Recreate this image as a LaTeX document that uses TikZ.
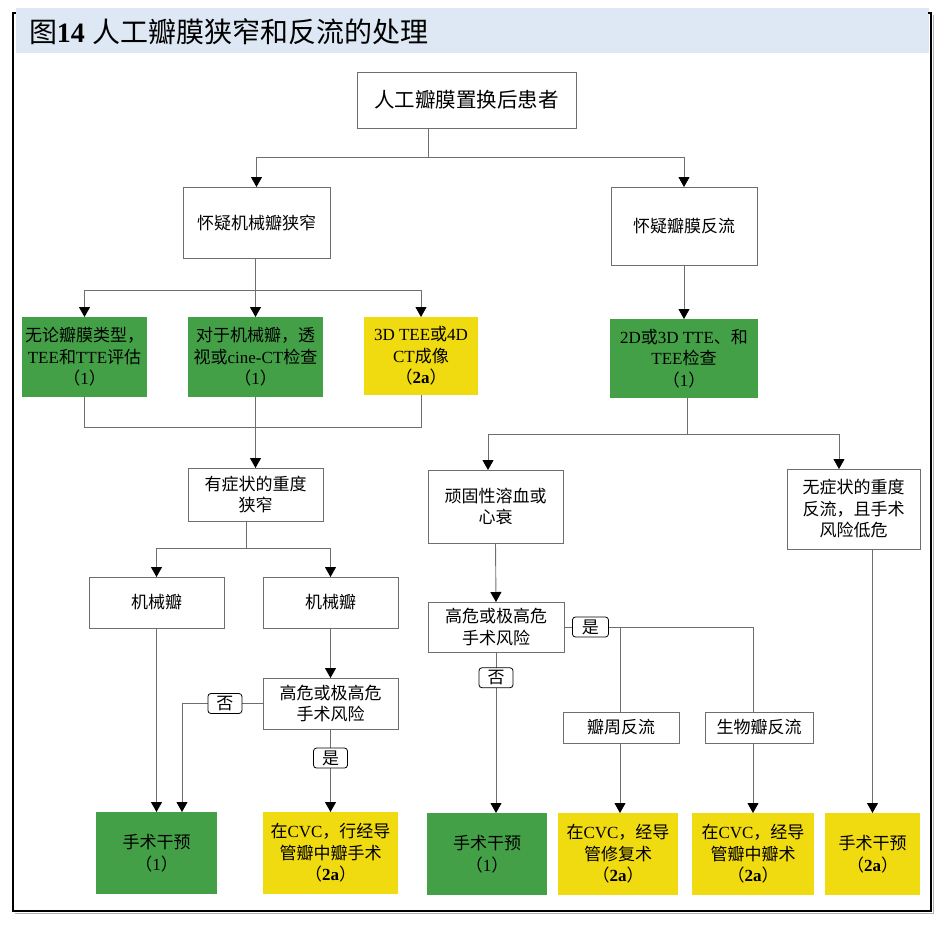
\documentclass[tikz,border=0pt]{standalone}
\usepackage{fontspec}
\setmainfont{Liberation Serif}
\newfontfamily\cjk{Noto Sans CJK SC}
\usetikzlibrary{arrows.meta,calc}
\definecolor{gboxc}{HTML}{43A047}
\definecolor{yboxc}{HTML}{F0DA10}
\definecolor{bandc}{HTML}{DDE8F4}
\definecolor{linec}{HTML}{6E6E6E}
\newcommand\zh[1]{{\cjk #1}}
\begin{document}
\begin{tikzpicture}[x=1pt,y=-1pt,
 every node/.style={inner sep=0pt,outer sep=0pt,align=center,font=\fontsize{17}{21.5}\selectfont},
 wbox/.style={draw=linec,line width=0.9pt,fill=white},
 gbox/.style={fill=gboxc},
 ybox/.style={fill=yboxc},
 lab/.style={draw=black,line width=0.8pt,fill=white,rounded corners=3pt,minimum width=34pt,minimum height=20pt},
 conn/.style={draw=linec,line width=0.9pt},
 arr/.style={conn,-{Triangle[width=11pt,length=10pt,black]}},
]
\useasboundingbox (0,0) rectangle (945,927);
% title band and frame
\fill[bandc] (16,8) rectangle (929,53);
\node[anchor=west,font=\fontsize{28}{32}\selectfont] (title) at (29,32) {\zh{图}\textbf{14} \zh{人工瓣膜狭窄和反流的处理}};
\draw[gray!60,line width=1.2pt] (15,913.5) -- (933.5,913.5) -- (933.5,15);
\draw[line width=1.6pt] (16,13) -- (13,13) -- (13,911) -- (931,911) -- (931,13) -- (928,13);

% nodes
\node[wbox,minimum width=219pt,minimum height=56pt,font=\fontsize{20.5}{24}\selectfont] (top) at (466.5,100) {\zh{人工瓣膜置换后患者}};
\node[wbox,minimum width=147pt,minimum height=71pt] (s1) at (256.5,222.5) {\zh{怀疑机械瓣狭窄}};
\node[wbox,minimum width=146pt,minimum height=78pt] (r1) at (684,226) {\zh{怀疑瓣膜反流}};
\node[gbox,minimum width=125pt,minimum height=80pt] (g1) at (84.5,357) {\zh{无论瓣膜类型，}\\TEE\zh{和}TTE\zh{评估}\\\zh{（}1\zh{）}};
\node[gbox,minimum width=135pt,minimum height=80pt] (g2) at (255.5,357) {\zh{对于机械瓣，透}\\\zh{视或}cine-CT\zh{检查}\\\zh{（}1\zh{）}};
\node[ybox,minimum width=114pt,minimum height=78pt] (y3) at (421,356) {3D TEE\zh{或}4D\\CT\zh{成像}\\\zh{（}\textbf{2a}\zh{）}};
\node[gbox,minimum width=148pt,minimum height=79pt] (rg) at (684,358.5) {2D\zh{或}3D TTE\zh{、和}\\TEE\zh{检查}\\\zh{（}1\zh{）}};
\node[wbox,minimum width=135pt,minimum height=53pt] (sym) at (255.5,494.5) {\zh{有症状的重度}\\\zh{狭窄}};
\node[wbox,minimum width=135pt,minimum height=73pt] (hem) at (495.5,506.5) {\zh{顽固性溶血或}\\\zh{心衰}};
\node[wbox,minimum width=133pt,minimum height=80pt] (asym) at (853.5,509) {\zh{无症状的重度}\\\zh{反流，且手术}\\\zh{风险低危}};
\node[wbox,minimum width=135pt,minimum height=51pt] (mv1) at (156.5,602.5) {\zh{机械瓣}};
\node[wbox,minimum width=135pt,minimum height=51pt] (mv2) at (330.5,602.5) {\zh{机械瓣}};
\node[wbox,minimum width=135pt,minimum height=51pt] (risk1) at (330.5,703.5) {\zh{高危或极高危}\\\zh{手术风险}};
\node[wbox,minimum width=136pt,minimum height=50pt] (risk2) at (496,627) {\zh{高危或极高危}\\\zh{手术风险}};
\node[wbox,minimum width=116pt,minimum height=31pt] (pv) at (621,727.5) {\zh{瓣周反流}};
\node[wbox,minimum width=108pt,minimum height=31pt] (bv) at (759,727.5) {\zh{生物瓣反流}};
\node[gbox,minimum width=121pt,minimum height=82pt] (bl1) at (156.5,853) {\zh{手术干预}\\\zh{（}1\zh{）}};
\node[ybox,minimum width=135pt,minimum height=82pt] (by1) at (330.5,853) {\zh{在}CVC\zh{，行经导}\\\zh{管瓣中瓣手术}\\\zh{（}\textbf{2a}\zh{）}};
\node[gbox,minimum width=120pt,minimum height=82pt] (bg2) at (487,854) {\zh{手术干预}\\\zh{（}1\zh{）}};
\node[ybox,minimum width=120pt,minimum height=82pt] (by2) at (618,854) {\zh{在}CVC\zh{，经导}\\\zh{管修复术}\\\zh{（}\textbf{2a}\zh{）}};
\node[ybox,minimum width=122pt,minimum height=82pt] (by3) at (753,854) {\zh{在}CVC\zh{，经导}\\\zh{管瓣中瓣术}\\\zh{（}\textbf{2a}\zh{）}};
\node[ybox,minimum width=95pt,minimum height=82pt] (by4) at (872.5,854) {\zh{手术干预}\\\zh{（}\textbf{2a}\zh{）}};

% connectors
\coordinate (j1) at (428,157);
\draw[conn] (top.south -| j1) -- (j1);
\draw[arr] (j1) -| (s1.north);
\draw[arr] (j1) -| (r1.north);

\coordinate (j2) at (255.5,290);
\draw[conn] (s1.south -| j2) -- (j2);
\draw[arr] (j2) -| (g1.north);
\draw[arr] (j2) -| (y3.north);
\draw[arr] (j2) -- (g2.north);

\coordinate (j3) at (255.5,427);
\draw[conn] (g1.south) |- (j3);
\draw[conn] (y3.south) |- (j3);
\draw[arr] (g2.south) -- (sym.north);

\coordinate (j4) at (246,548);
\draw[conn] (sym.south -| j4) -- (j4);
\draw[arr] (j4) -| (mv1.north);
\draw[arr] (j4) -| (mv2.north);

\draw[arr] (mv1.south) -- (bl1.north);
\draw[arr] (mv2.south) -- (risk1.north);
\coordinate (c1) at (182,703.5);
\draw[arr] (risk1.west) -- node[lab,pos=0.47]{\zh{否}} (c1) -- (c1 |- bl1.north);
\draw[arr] (risk1.south) -- node[lab,pos=0.35]{\zh{是}} (by1.north);

\draw[arr] (r1.south) -- (rg.north);
\coordinate (j5) at (687,434);
\coordinate (h1) at (488,434);
\coordinate (h2) at (839,434);
\draw[conn] (rg.south -| j5) -- (j5);
\draw[arr] (j5) -- (h1) -- (h1 |- hem.north);
\draw[arr] (j5) -- (h2) -- (h2 |- asym.north);

\draw[arr] (hem.south) -- (risk2.north);
\draw[arr] (risk2.south) -- node[lab,pos=0.16]{\zh{否}} (risk2.south |- bg2.north);
\coordinate (c2) at (753,627);
\coordinate (c3) at (620,627);
\draw[conn] (c3) -- (c3 |- pv.north);
\draw[conn] (risk2.east) -- node[lab,pos=0.14,minimum width=36pt]{\zh{是}} (c2) -- (c2 |- bv.north);
\draw[arr] (pv.south -| c3) -- (c3 |- by2.north);
\draw[arr] (bv.south -| c2) -- (c2 |- by3.north);
\draw[arr] (asym.south -| by4.north) -- (by4.north);
\end{tikzpicture}
\end{document}
